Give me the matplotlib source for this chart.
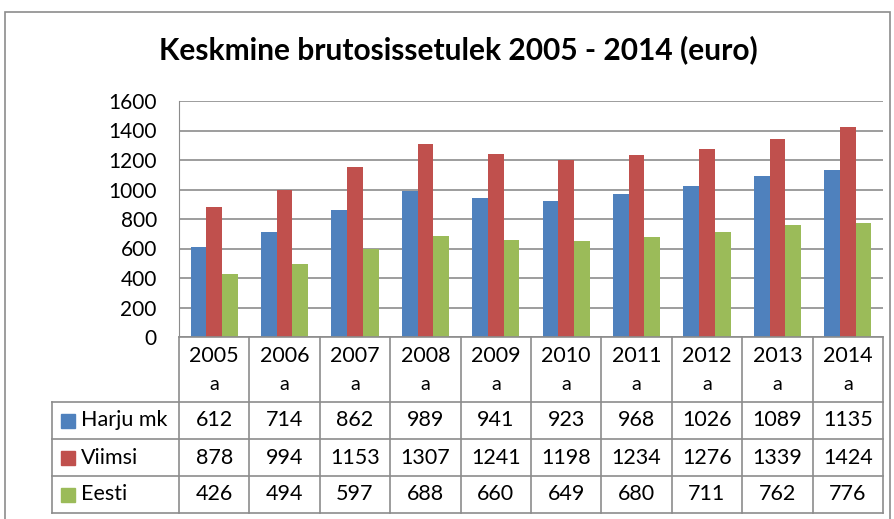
import matplotlib.pyplot as plt
import matplotlib.patches as mpatches
import numpy as np

plt.rcParams['font.family'] = ['Lato', 'DejaVu Sans']

years = ["2005", "2006", "2007", "2008", "2009", "2010", "2011", "2012", "2013", "2014"]
series = ["Harju mk", "Viimsi", "Eesti"]
harju = [612, 714, 862, 989, 941, 923, 968, 1026, 1089, 1135]
viimsi = [878, 994, 1153, 1307, 1241, 1198, 1234, 1276, 1339, 1424]
eesti = [426, 494, 597, 688, 660, 649, 680, 711, 762, 776]
colors = ["#4F81BD", "#C0504D", "#9BBB59"]
values = [harju, viimsi, eesti]

W, H = 895, 519
fig = plt.figure(figsize=(W / 100, H / 100), dpi=100)

# outer chart border
fig.patches.append(mpatches.Rectangle((5 / W, -0.01), (885) / W, (H - 12) / H + 0.01,
                                      transform=fig.transFigure, fill=False,
                                      edgecolor="#8c8c8c", lw=1.2))

fig.text(458 / W, 1 - 50 / H, "Keskmine brutosissetulek 2005 - 2014 (euro)",
         ha="center", va="center", fontsize=21.5, fontweight="bold")

# plot area
x0, x1, ytop, y0 = 179, 883, 101, 337
ax = fig.add_axes([x0 / W, 1 - y0 / H, (x1 - x0) / W, (y0 - ytop) / H])
x = np.arange(len(years))
bw = 0.223
for i, (s, v) in enumerate(zip(series, values)):
    ax.bar(x + (i - 1) * bw, v, bw, color=colors[i], label=s, zorder=3)
ax.set_xlim(-0.5, len(years) - 0.5)
ax.set_ylim(0, 1600)
ax.set_yticks(range(0, 1601, 200))
ax.tick_params(axis="y", length=0, labelsize=15, pad=16)
ax.tick_params(axis="x", bottom=False, labelbottom=False)
ax.grid(axis="y", color="#8c8c8c", lw=1.2, zorder=0)
for sp in ["top", "right", "bottom"]:
    ax.spines[sp].set_visible(False)
ax.spines["left"].set_color("#8c8c8c")

# data table
tl, tb = 52, 513
tax = fig.add_axes([0, 0, 1, 1], facecolor="none")
tax.set_xlim(0, W)
tax.set_ylim(H, 0)
tax.axis("off")
colw = (x1 - x0) / len(years)
hdr_b = 402
row_h = (tb - hdr_b) / 3
lc = "#8c8c8c"
# horizontal lines
tax.plot([x0, x1], [y0, y0], color=lc, lw=1.2)
tax.plot([tl, x1], [hdr_b, hdr_b], color=lc, lw=1.2)
for r in range(1, 4):
    yy = hdr_b + r * row_h
    tax.plot([tl, x1], [yy, yy], color=lc, lw=1.2)
# vertical lines
tax.plot([tl, tl], [hdr_b, tb], color=lc, lw=1.2)
for c in range(len(years) + 1):
    xx = x0 + c * colw
    tax.plot([xx, xx], [y0, tb], color=lc, lw=1.2)
# header
for c, yr in enumerate(years):
    cx = x0 + (c + 0.5) * colw
    tax.text(cx, 356, yr, ha="center", va="center", fontsize=15.5)
    tax.text(cx, 385, "a", ha="center", va="center", fontsize=14)
# rows
for r, (s, v) in enumerate(zip(series, values)):
    cy = hdr_b + (r + 0.5) * row_h
    tax.add_patch(mpatches.Rectangle((61, cy - 7), 14, 14, color=colors[r]))
    tax.text(81, cy, s, ha="left", va="center", fontsize=15.5)
    for c, val in enumerate(v):
        tax.text(x0 + (c + 0.5) * colw, cy, str(val), ha="center", va="center", fontsize=15.5)

fig.savefig("out.png", dpi=100)
